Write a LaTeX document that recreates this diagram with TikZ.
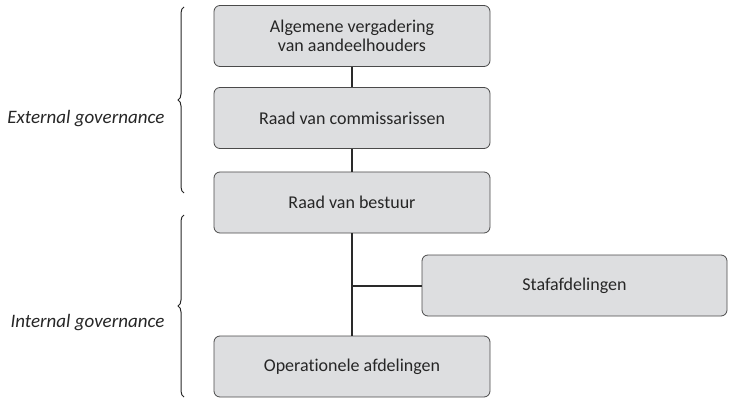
\documentclass[tikz,border=0pt]{standalone}
\usepackage{fontspec}
\setmainfont{Carlito}[Ligatures=NoCommon]
\usetikzlibrary{decorations.pathreplacing}
\definecolor{boxgrey}{HTML}{DDDEE0}
\definecolor{edgegrey}{HTML}{4A4A4A}
\definecolor{linegrey}{HTML}{2A2A2A}
\tikzset{
    orgbox/.style={draw=edgegrey,fill=boxgrey,line width=0.8pt,rounded corners=6pt,
        minimum width=276pt,minimum height=61pt,align=center,font=\fontsize{18}{19.5}\selectfont,
        text=black!85},
    link/.style={draw=linegrey,line width=2pt},
    govbrace/.style={decorate,decoration={brace,amplitude=6pt},line width=1pt,draw=black!85},
    govlabel/.style={anchor=east,font=\fontsize{19}{21}\selectfont\itshape,text=black!85}
}
\begin{document}
\begin{tikzpicture}[x=1pt,y=-1pt]
        \useasboundingbox (0,0) rectangle (733,398);
        \node[orgbox] (agm) at (352,36) {Algemene vergadering\\van aandeelhouders};
        \node[orgbox] (rvc) at (352,118) {Raad van commissarissen};
        \node[orgbox] (rvb) at (352,202.5) {Raad van bestuur};
        \node[orgbox,minimum width=305pt] (staf) at (574.5,285.5) {Stafafdelingen};
        \node[orgbox] (ops) at (352,366.5) {Operationele afdelingen};
        \coordinate (jn) at (rvb.south |- staf.west);
        \draw[link] (agm.south) -- (rvc.north);
        \draw[link] (rvc.south) -- (rvb.north);
        \draw[link] (rvb.south) -- (ops.north);
        \draw[link] (jn) -- (staf.west);
        \draw[govbrace] (184,193) -- (184,7);
        \draw[govbrace] (184,397) -- (184,215);
        \node[govlabel] (ext) at (168,119) {External governance};
        \node[govlabel] (int) at (168,323) {Internal governance};
    \end{tikzpicture}
\end{document}
